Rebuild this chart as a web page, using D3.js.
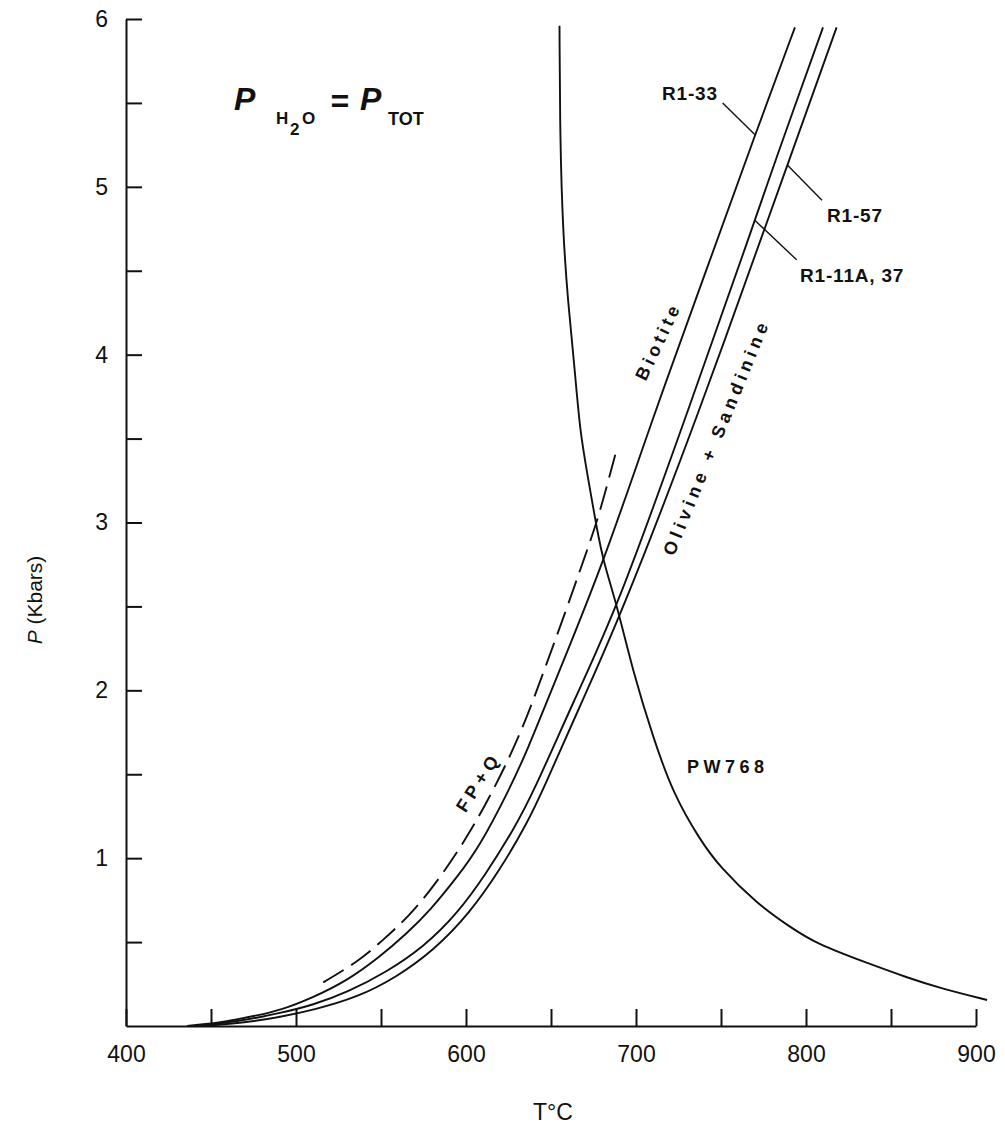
<!DOCTYPE html>
<html lang="en">
<head>
<meta charset="UTF-8">
<title>P-T stability curves</title>
<style>
  body { margin: 0; background: #fff; }
  svg { display: block; font-family: "Liberation Sans", Arial, Helvetica, sans-serif; }
  .curve { fill: none; stroke: #111; stroke-width: 1.9px; }
  .axis path, .axis line { stroke: #111; stroke-width: 2px; }
  .axis text { font-size: 23px; fill: #111; font-family: "Liberation Sans", Arial, sans-serif; }
  .lbl { font-weight: bold; fill: #111; }
  .ptr { stroke: #111; stroke-width: 1.4px; }
</style>
<script src="https://cdn.jsdelivr.net/npm/d3@7"></script>
</head>
<body>
<div id="chart"></div>
<script>
// ticks
const xTickValues = [400, 450, 500, 550, 600, 650, 700, 750, 800, 850, 900];
const xTickLabels = [400, 500, 600, 700, 800, 900];
const yTickValues = [0.5, 1, 1.5, 2, 2.5, 3, 3.5, 4, 4.5, 5, 5.5, 6];
const yTickLabels = [1, 2, 3, 4, 5, 6];

// curves, [T °C, P kbar]
const r133 = [[436, 0], [459, 0.025], [478, 0.065], [491, 0.095], [510, 0.17], [530, 0.27],
  [549, 0.41], [565, 0.55], [579, 0.69], [595, 0.89], [608, 1.07], [625, 1.4], [636, 1.64],
  [651, 2.02], [681, 2.76], [710, 3.63], [742, 4.52], [770, 5.31], [793.5, 5.95]];
const r11a = [[441, 0], [465, 0.025], [491, 0.077], [510, 0.125], [530, 0.2], [553, 0.32],
  [575, 0.47], [595, 0.67], [612, 0.91], [628, 1.17], [640, 1.4], [663, 1.93], [689, 2.49],
  [729, 3.62], [770, 4.8], [781, 5.13], [810, 5.95]];
const r157 = [[446, 0], [470, 0.02], [491, 0.054], [510, 0.095], [536, 0.17], [559, 0.29],
  [581, 0.45], [602, 0.67], [620, 0.93], [636, 1.21], [645, 1.4], [668, 1.93], [690, 2.42],
  [736, 3.62], [789, 5.13], [818, 5.95]];
const fpq = [[516, 0.26], [536, 0.38], [551, 0.51], [566, 0.65], [581, 0.83], [600, 1.11],
  [617, 1.42], [633, 1.76], [646, 2.12], [659, 2.48], [670, 2.8], [678, 3.03], [689, 3.45]];
const pw768 = [[655, 5.96], [655.3, 5.3], [657, 4.73], [660, 4.31], [664, 3.91], [667, 3.55],
  [671, 3.31], [677, 2.96], [681, 2.76], [689, 2.5], [698, 2.12], [710, 1.72], [722, 1.38],
  [737.6, 1.11], [749, 0.95], [771, 0.73], [790.6, 0.59], [806, 0.49], [836, 0.375],
  [859, 0.29], [879, 0.225], [906.5, 0.155]];

const width = 1005, height = 1126;

const svg = d3.select("#chart").append("svg")
  .attr("width", width)
  .attr("height", height);

const x = d3.scaleLinear().domain([400, 900]).range([126, 976]);
const y = d3.scaleLinear().domain([0, 6]).range([1026, 19]);

svg.append("g")
  .attr("class", "axis")
  .attr("transform", "translate(126,0)")
  .call(d3.axisLeft(y).tickValues(yTickValues).tickSize(-16).tickSizeOuter(0).tickPadding(18)
    .tickFormat(d => yTickLabels.includes(d) ? d : ""));

svg.append("g")
  .attr("class", "axis")
  .attr("transform", "translate(0,1026)")
  .call(d3.axisBottom(x).tickValues(xTickValues).tickSize(-17).tickSizeOuter(0).tickPadding(20)
    .tickFormat(d => xTickLabels.includes(d) ? d : ""));

// axis titles
const yt = svg.append("text")
  .attr("transform", "translate(42,600) rotate(-90)")
  .attr("text-anchor", "middle")
  .attr("font-size", 21)
  .attr("fill", "#111");
yt.append("tspan").attr("font-style", "italic").text("P");
yt.append("tspan").text("  (Kbars)");

svg.append("text")
  .attr("x", 553).attr("y", 1120)
  .attr("text-anchor", "middle")
  .attr("font-size", 23)
  .attr("fill", "#111")
  .text("T°C");

// curves - basis spline smooths out the hand digitising
const line = d3.line()
  .x(d => x(d[0]))
  .y(d => y(d[1]))
  .curve(d3.curveBasis);

[r133, r11a, r157, pw768].forEach(c => {
  svg.append("path").attr("class", "curve").attr("d", line(c));
});
svg.append("path").attr("class", "curve")
  .attr("stroke-dasharray", "24,9")
  .attr("d", line(fpq));

// pointer lines to sample labels
const pointers = [
  [[751, 5.5], [770, 5.31]],
  [[809.4, 4.92], [789, 5.13]],
  [[794.5, 4.565], [770, 4.8]]
];
pointers.forEach(p => {
  svg.append("line").attr("class", "ptr")
    .attr("x1", x(p[0][0])).attr("y1", y(p[0][1]))
    .attr("x2", x(p[1][0])).attr("y2", y(p[1][1]));
});

const sampleLabels = [
  { text: "R1-33", t: 715.3, p: 5.52 },
  { text: "R1-57", t: 812.4, p: 4.79 },
  { text: "R1-11A, 37", t: 796.5, p: 4.43 }
];
sampleLabels.forEach(l => {
  svg.append("text").attr("class", "lbl")
    .attr("x", x(l.t)).attr("y", y(l.p))
    .attr("font-size", 19)
    .attr("letter-spacing", 0.8)
    .text(l.text);
});

svg.append("text").attr("class", "lbl")
  .attr("x", x(730)).attr("y", y(1.51))
  .attr("font-size", 18)
  .attr("letter-spacing", 4.5)
  .text("PW768");

// labels running along the curves
const fieldLabels = [
  { text: "Biotite", t: 713.2, p: 4.08, angle: -64.6, spacing: 4 },
  { text: "Olivine + Sandinine", t: 747.4, p: 3.51, angle: -67.7, spacing: 4.6 },
  { text: "FP+Q", t: 607.5, p: 1.454, angle: -57, spacing: 5 }
];
fieldLabels.forEach(l => {
  svg.append("text").attr("class", "lbl")
    .attr("transform", `translate(${x(l.t)},${y(l.p)}) rotate(${l.angle})`)
    .attr("text-anchor", "middle")
    .attr("dominant-baseline", "central")
    .attr("font-size", 18)
    .attr("letter-spacing", l.spacing)
    .text(l.text);
});

// title P_H2O = P_TOT
const title = svg.append("g").attr("fill", "#111").attr("font-weight", "bold");
title.append("text").attr("x", 234).attr("y", 110).attr("font-size", 32).attr("font-style", "italic").text("P");
title.append("text").attr("x", 276).attr("y", 124).attr("font-size", 17).text("H");
title.append("text").attr("x", 290).attr("y", 135).attr("font-size", 17).text("2");
title.append("text").attr("x", 302).attr("y", 124).attr("font-size", 17).text("O");
title.append("text").attr("x", 330).attr("y", 112).attr("font-size", 32).attr("font-style", "italic").text("=");
title.append("text").attr("x", 360).attr("y", 110).attr("font-size", 32).attr("font-style", "italic").text("P");
title.append("text").attr("x", 388).attr("y", 125).attr("font-size", 18).text("TOT");
</script>
</body>
</html>
